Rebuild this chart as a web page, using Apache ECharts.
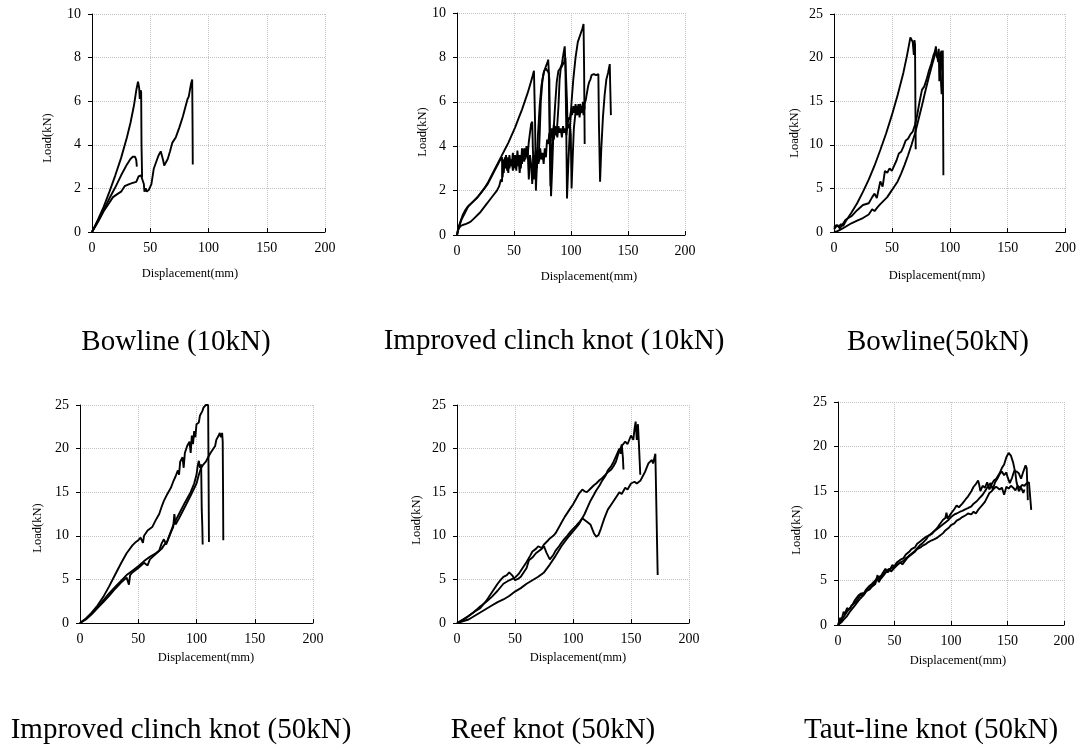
<!DOCTYPE html>
<html>
<head>
<meta charset="utf-8">
<script src="https://cdn.jsdelivr.net/npm/echarts@6/dist/echarts.min.js"></script>
<style>
  html, body { margin: 0; padding: 0; background: #fff; }
  #chart { width: 1079px; height: 749px; }
</style>
</head>
<body>
<div id="chart"></div>
<script>
// panel titles
const titles = [
  "Bowline (10kN)",
  "Improved clinch knot (10kN)",
  "Bowline(50kN)",
  "Improved clinch knot (50kN)",
  "Reef knot (50kN)",
  "Taut-line knot (50kN)"
];
const xTicks = [0, 50, 100, 150, 200];
const yTicks10 = [0, 2, 4, 6, 8, 10];
const yTicks25 = [0, 5, 10, 15, 20, 25];

// Bowline (10kN): [displacement mm, load kN]
const bowline10A = [[0,0],[5,0.55],[10,1.15],[15,1.85],[20,2.6],[25,3.4],[30,4.35],[33,5.0],[36,5.8],[38,6.5],[39.5,6.9],[40.5,6.6],[41,6.1],[41.8,6.5],[42.2,6.4],[42.5,4.0],[43,2.5]];
const bowline10B = [[0,0],[5,0.5],[10,1.0],[15,1.55],[20,2.05],[25,2.6],[30,3.1],[33,3.35],[35,3.45],[37,3.45],[38,3.3],[38.5,3.0]];
const bowline10C = [[0,0],[5,0.45],[10,0.95],[15,1.35],[18,1.6],[22,1.75],[25,1.85],[28,2.1],[32,2.2],[35,2.25],[38,2.3],[40,2.55],[42,2.6],[43.5,2.55],[44.5,2.2],[45,1.85],[46,2.0],[47,1.85],[49,1.95],[51,2.2],[53,2.9],[55,3.2],[57,3.5],[59,3.7],[60,3.65],[61,3.3],[62,3.05],[63,3.0],[65,3.35],[67,3.7],[69,4.1],[72,4.35],[75,4.8],[78,5.3],[80,5.7],[82,6.1],[83,6.2],[84,6.5],[85,6.8],[86,7.0],[86.3,5.0],[86.5,3.1]];

// Improved clinch knot (10kN)
const clinch10A = [[0,0],[1,0.3],[3,0.6],[5,0.9],[7,1.1],[9,1.25],[11,1.35],[13,1.45],[15,1.55],[18,1.7],[21,1.9],[24,2.1],[27,2.35],[30,2.65],[33,2.95],[36,3.25],[39,3.55],[42,3.85],[45,4.15],[48,4.5],[51,4.85],[54,5.25],[57,5.65],[60,6.1],[62,6.4],[64,6.75],[66,7.1],[67.5,7.4],[68,7.45],[68.5,5],[69.2,2.0],[70,3.0],[71,4.5],[72.5,5.8],[74,6.7],[76,7.3],[78,7.6],[79.5,7.8],[80,7.9],[80.5,7.4],[81.5,4.0],[82.5,1.75],[83.5,3.0],[84.5,4.5],[86,5.8],[87.5,6.9],[89,7.4],[90.5,7.5],[92,7.7],[93.5,8.2],[94.5,8.5],[95,7.8],[95.8,5.0],[96.5,1.65],[97.5,3.0],[99,4.8],[100.5,6.0],[102,7.0],[104,8.0],[106,8.7],[108,9.0],[110,9.3],[111,9.5],[111.5,7.5],[112,4.1]];
const clinch10B = [[0,0],[1,0.25],[3,0.4],[5,0.45],[8,0.5],[10,0.55],[12,0.6],[15,0.75],[18,0.9],[20,1.0],[23,1.2],[26,1.4],[29,1.6],[32,1.8],[35,2.0],[37,2.2],[38.5,2.5],[39.5,2.4],[40,3.4],[41,2.8],[42,3.5],[43,3.0],[44,3.3],[45,2.8],[46,3.6],[47,3.1],[48,3.4],[49,2.9],[50,3.3],[51,3.0],[52,3.5],[53,3.1],[54,3.4],[55,2.8],[56,3.5],[57,3.2],[58,3.8],[59,3.3],[60,3.9],[61,3.5],[62,3.8],[63,2.5],[64,3.6],[65,3.2],[66,2.3],[67,3.6],[68,3.2],[69,3.8],[70,3.0],[71,3.6],[72,3.3],[73,3.9],[74,3.4],[75,3.7],[76,3.2],[77,3.9],[78,3.5],[79,4.3],[80,4.1],[81,4.6],[82,4.2],[83,4.8],[84,4.4],[85,5.0],[86,4.5],[87,4.8],[88,4.4],[89,4.9],[90,4.6],[91,4.8],[92,4.4],[93,4.9],[94,4.6],[95,4.8],[96,4.5],[97,5.0],[98,5.3],[99,5.2],[100,5.6],[101,5.4],[102,5.8],[103,5.5],[104,5.9],[105,5.4],[106,5.8],[107,5.5],[108,5.9],[109,5.6],[110,5.8],[111,5.4],[112,5.9],[113,6.1],[114,6.4],[115,6.7],[116,6.9],[117,7.0],[118,7.2],[120,7.25],[122,7.2],[124,7.25],[124.5,5.0],[125.5,2.4],[126.5,3.8],[128,5.3],[129.5,6.3],[131,7.0],[132.5,7.3],[134,7.7],[134.5,6.5],[135,5.4]];
const clinch10C = [[0,0],[2,0.4],[4,0.7],[6,0.9],[8,1.1],[10,1.3],[12,1.4],[15,1.55],[18,1.7],[21,1.9],[24,2.1],[27,2.3],[30,2.6],[33,2.9],[36,3.2],[38,3.4],[39.5,3.5],[40,2.6],[41,3.4],[42,3.1],[43,3.6],[44,2.9],[45,3.5],[46,3.0],[47,3.4],[48,3.1],[49,3.7],[50,3.2],[51,3.6],[52,2.9],[53,3.8],[54,3.2],[55,3.6],[56,3.0],[57,3.9],[58,3.5],[59,3.9],[60,3.4],[61,4.0],[62,3.6],[63,4.2],[64,4.6],[65,5.0],[66,5.1],[66.5,4.0],[67.5,2.5],[68.5,3.5],[69.5,3.0],[70.5,3.8],[71.5,3.2],[72.5,4.5],[73.5,6.0],[75,7.0],[76.5,7.4],[78,7.5],[79.5,7.5],[80.5,7.3],[81,7.0],[81.5,4],[82,2.2],[83,3.8],[84,4.6],[85,4.3],[86,4.9],[87,4.5],[88,5.0],[89,5.8],[90,7.0],[91,7.5],[92,7.6],[93,7.6],[94,7.8],[95,8.0],[96,8.0],[96.5,6],[97,4.8],[98,4.9],[99,5.0],[99.8,4.5],[100.5,2.1],[101.5,3.5],[102.5,4.8],[103.5,5.3],[104.5,5.8],[105.5,5.4],[106.5,5.9],[107.5,5.3],[108.5,5.7],[109.5,5.5],[110.5,6.0],[111.5,5.6],[112,5.8]];

// Bowline (50kN)
const bowline50A = [[0,0.5],[2,0.8],[4,0.6],[6,0.9],[8,0.7],[10,1.2],[15,2.2],[20,3.3],[25,4.6],[30,6.0],[35,7.6],[40,9.4],[45,11.3],[50,13.4],[55,15.7],[60,18.3],[63,20.2],[65,21.6],[66,22.3],[67,22.1],[68,21.8],[69,20.3],[69.5,22.0],[70,21.5],[70.3,15],[70.6,9.5]];
const bowline50B = [[0,0.3],[3,0.8],[5,0.4],[8,1.0],[10,1.4],[15,1.8],[20,2.5],[25,3.1],[30,3.3],[33,4.0],[35,4.4],[37,3.9],[40,5.8],[42,5.2],[44,7.0],[46,6.8],[48,7.3],[50,7.0],[52,7.6],[54,8.2],[56,9.0],[58,9.2],[60,9.8],[62,10.5],[64,10.7],[66,11.2],[68,11.5],[70,12.3],[72,13.5],[74,15.0],[76,16.3],[78,16.7],[80,17.5],[82,18.5],[84,19.3],[86,20.3],[88,21.0],[89,21.2],[90,19.5],[90.5,21.0],[91,17.3],[91.5,19.8],[92,19.0],[93,20.8],[93.5,18.5],[94,20.8],[94.3,12],[94.5,6.5]];
const bowline50C = [[0,0],[3,0.1],[6,0.3],[10,0.6],[15,1.0],[20,1.3],[25,1.6],[30,2.0],[33,2.6],[35,2.4],[38,2.9],[40,3.2],[43,3.6],[46,4.0],[49,4.6],[52,5.2],[55,5.8],[58,6.7],[61,7.7],[64,8.8],[67,10.0],[70,11.3],[73,12.9],[76,14.5],[79,16.2],[82,17.8],[85,19.3],[87,20.2],[88,21.3],[89,20.0],[90,20.5],[91,19.5],[92,20.7],[92.5,17.0],[93,15.8]];

// Improved clinch knot (50kN)
const clinch50A = [[0,0],[5,0.5],[10,1.2],[15,2.0],[20,3.0],[25,4.2],[30,5.5],[35,6.8],[40,8.0],[45,8.9],[48,9.3],[50,9.5],[52,9.8],[54,9.2],[55,10.0],[58,10.6],[60,10.8],[62,11.0],[65,11.8],[68,12.5],[70,13.3],[72,14.0],[75,14.8],[78,15.5],[80,16.2],[82,16.8],[84,17.5],[85,17.0],[86,18.5],[88,19.0],[89,17.8],[90,19.5],[92,20.3],[94,20.8],[95,19.5],[96,21.5],[97,20.5],[98,22.0],[99,21.3],[100,22.8],[102,23.0],[103,23.8],[104,24.0],[105,24.3],[106,24.7],[107,24.6],[108,25.0],[109,24.8],[110,25.0],[110.3,18],[110.7,9.3]];
const clinch50B = [[0,0],[5,0.4],[10,1.0],[15,1.7],[20,2.4],[25,3.1],[30,3.9],[35,4.6],[40,5.2],[42,4.4],[43,5.5],[45,5.8],[50,6.3],[55,6.9],[58,6.6],[60,7.3],[65,7.9],[70,8.5],[72,8.9],[75,9.4],[78,10.4],[80,11.0],[81,12.5],[82,11.3],[85,12.0],[90,13.3],[95,14.6],[100,16.0],[102,17.0],[104,17.8],[106,18.2],[108,18.5],[110,19.0],[112,19.5],[114,19.9],[116,20.3],[117,21.0],[119,21.5],[120,21.8],[121,21.3],[122,21.8],[122.5,20.8],[122.8,15],[123,9.5]];
const clinch50C = [[0,0],[5,0.5],[10,1.1],[15,1.8],[20,2.6],[25,3.4],[30,4.1],[35,4.8],[40,5.5],[45,6.0],[50,6.5],[55,7.1],[60,7.6],[65,8.0],[68,8.3],[70,9.1],[72,9.6],[74,9.0],[76,9.8],[80,11.2],[85,12.5],[90,13.8],[95,15.0],[98,16.0],[100,17.0],[101,18.0],[102,18.6],[103,17.8],[104,18.2],[104.5,13],[105,11.0],[105.3,9.0]];

// Reef knot (50kN)
const reefA = [[0,0],[5,0.3],[10,0.8],[15,1.3],[20,1.9],[25,2.4],[30,3.0],[35,3.7],[40,4.5],[45,4.9],[50,5.2],[53,5.6],[55,6.0],[58,6.6],[60,7.0],[63,7.7],[65,8.2],[68,8.5],[70,8.8],[73,8.6],[75,9.0],[78,9.4],[80,9.7],[83,10.0],[85,10.3],[88,11.0],[90,11.5],[93,12.2],[95,12.6],[98,13.2],[100,13.6],[103,14.3],[105,14.8],[108,15.3],[110,15.1],[112,15.0],[115,15.4],[118,15.8],[120,16.0],[123,16.4],[125,16.6],[128,17.0],[130,17.3],[133,17.6],[135,18.0],[137,18.5],[140,19.8],[142,20.3],[145,20.8],[147,20.5],[150,21.5],[152,21.0],[153,22.2],[154,23.1],[155,21.0],[156,22.8],[157,20.0],[158,17.0]];
const reefB = [[0,0],[5,0.4],[10,0.8],[15,1.3],[20,1.7],[23,2.2],[25,2.5],[28,3.1],[30,3.5],[33,4.1],[35,4.5],[38,5.0],[40,5.3],[43,5.5],[45,5.8],[46,5.6],[48,5.4],[50,4.9],[53,5.1],[55,5.3],[58,5.9],[60,6.3],[62,7.2],[65,7.5],[68,8.0],[70,8.2],[73,8.5],[75,8.8],[77,8.1],[80,7.3],[83,7.8],[85,8.3],[88,8.8],[90,9.2],[93,9.7],[95,10.0],[98,10.5],[100,10.8],[103,11.2],[105,11.5],[108,12.0],[110,11.8],[112,11.6],[115,11.3],[118,10.3],[120,9.9],[122,10.1],[124,10.8],[127,12.0],[130,13.0],[133,13.6],[135,14.0],[138,14.6],[140,15.0],[142,14.8],[145,15.5],[147,15.3],[150,16.0],[153,16.2],[155,16.0],[158,16.3],[160,16.8],[162,17.3],[165,18.3],[168,18.7],[169,18.3],[171,19.4],[172,19.2],[173,5.5]];
const reefC = [[0,0],[5,0.2],[10,0.4],[15,0.8],[20,1.2],[25,1.6],[30,2.0],[35,2.4],[40,2.7],[45,3.1],[50,3.6],[55,4.0],[60,4.5],[65,4.9],[70,5.3],[75,5.8],[80,6.7],[85,7.7],[90,8.8],[95,9.7],[100,10.5],[105,11.3],[110,12.5],[113,13.4],[115,14.0],[118,14.7],[120,15.2],[123,15.8],[125,16.3],[128,16.9],[130,17.5],[133,18.0],[135,18.5],[138,19.4],[140,20.0],[141,19.4],[142,20.5],[143,19.0],[143.5,17.6]];

// Taut-line knot (50kN)
const tautA = [[0,0],[2,0.8],[3,0.5],[5,1.5],[6,1.2],[8,1.9],[10,1.7],[12,2.2],[15,2.5],[18,3.0],[20,3.4],[22,3.3],[25,3.8],[28,4.0],[30,4.3],[33,4.6],[35,5.6],[36,4.8],[38,5.2],[40,5.5],[43,6.0],[45,6.3],[47,6.0],[50,6.4],[53,6.8],[55,7.0],[57,6.8],[60,7.3],[63,7.8],[65,8.0],[68,8.3],[70,8.6],[73,9.0],[75,9.2],[78,9.6],[80,10.0],[83,10.3],[85,10.5],[88,10.9],[90,11.3],[93,11.8],[95,12.0],[96,12.6],[97,11.9],[100,12.5],[103,13.0],[105,13.4],[107,13.2],[110,13.6],[113,14.1],[115,14.4],[118,15.0],[120,15.5],[122,15.8],[124,16.2],[125,15.7],[126,15.0],[128,15.6],[130,15.4],[132,16.0],[134,15.2],[136,15.8],[138,16.2],[140,16.4],[143,17.0],[145,17.6],[147,18.0],[149,18.8],[151,19.3],[153,19.0],[155,18.2],[157,17.0],[158,16.0],[160,15.0],[162,15.4],[164,14.8],[165,15.2]];
const tautB = [[0,0],[3,0.6],[5,0.9],[8,1.5],[10,1.8],[13,2.3],[15,2.8],[18,3.3],[20,3.5],[23,3.6],[25,4.0],[28,4.4],[30,4.6],[33,5.0],[35,5.3],[38,5.5],[40,5.9],[42,6.3],[44,5.9],[46,6.2],[48,6.7],[50,6.6],[52,7.0],[55,7.3],[58,7.5],[60,7.9],[63,8.2],[65,8.5],[68,8.7],[70,9.1],[73,9.4],[75,9.6],[78,9.9],[80,10.0],[83,10.2],[85,10.5],[88,10.8],[90,11.0],[93,11.3],[95,11.5],[98,11.8],[100,12.1],[103,12.4],[105,12.5],[108,12.7],[110,12.8],[113,13.0],[115,13.1],[118,13.3],[120,13.6],[123,13.9],[125,14.2],[128,14.6],[130,15.0],[133,15.6],[135,15.9],[137,15.2],[139,16.0],[141,16.4],[143,16.9],[145,17.2],[147,16.8],[149,17.1],[150,16.6],[152,15.9],[154,16.5],[156,17.3],[158,17.2],[160,17.0],[162,16.4],[164,17.2],[166,17.9],[167,17.6],[168,14.0]];
const tautC = [[0,0],[3,0.3],[5,0.6],[8,1.0],[10,1.4],[13,1.9],[15,2.2],[18,2.7],[20,3.0],[23,3.4],[25,3.8],[28,4.1],[30,4.4],[33,4.8],[35,5.1],[38,5.4],[40,5.7],[43,6.0],[45,6.2],[48,6.4],[50,6.6],[53,6.8],[55,7.0],[58,7.2],[60,7.5],[63,7.7],[65,7.9],[68,8.2],[70,8.5],[73,8.7],[75,8.9],[78,9.1],[80,9.3],[83,9.5],[85,9.6],[88,9.8],[90,10.0],[93,10.3],[95,10.6],[98,10.9],[100,11.2],[103,11.4],[105,11.7],[108,11.9],[110,12.1],[113,12.3],[115,12.5],[118,12.4],[120,12.7],[122,12.5],[124,12.9],[126,13.2],[128,13.5],[130,13.8],[132,14.3],[134,14.8],[136,15.0],[138,15.3],[140,15.5],[143,15.2],[145,15.4],[147,14.6],[149,15.5],[151,15.3],[153,15.6],[155,15.4],[157,15.1],[159,15.6],[161,15.4],[163,15.7],[165,15.6],[167,15.9],[169,16.0],[170,15.8],[171,12.9]];

const panelCurves = [
  [bowline10A, bowline10B, bowline10C],
  [clinch10A, clinch10B, clinch10C],
  [bowline50A, bowline50B, bowline50C],
  [clinch50A, clinch50B, clinch50C],
  [reefA, reefB, reefC],
  [tautA, tautB, tautC]
];
const panelYTicks = [yTicks10, yTicks10, yTicks25, yTicks25, yTicks25, yTicks25];

// layout of the six plots
const grids = [
  { left: 92, top: 14, width: 233, height: 218 },
  { left: 457, top: 13, width: 228, height: 222 },
  { left: 834, top: 14, width: 232, height: 218 },
  { left: 80, top: 405, width: 233, height: 218 },
  { left: 457, top: 405, width: 232, height: 218 },
  { left: 838, top: 402, width: 226, height: 223 }
];
const titlePos = [[176, 342], [554, 341], [938, 342], [181, 730], [553, 730], [931, 730]];
const xNamePos = [[190, 274], [589, 277], [937, 276], [206, 658], [578, 658], [958, 661]];
const yNamePos = [[48, 138], [423, 132], [795, 133], [38, 528], [417, 520], [797, 530]];

const FONT = '"Liberation Serif", "Times New Roman", serif';

const myChart = echarts.init(document.getElementById("chart"));

const xAxis = grids.map((g, i) => ({
  type: "value",
  gridIndex: i,
  min: xTicks[0],
  max: xTicks[xTicks.length - 1],
  interval: xTicks[1] - xTicks[0],
  axisLine: { show: true, onZero: false, lineStyle: { color: "#000", width: 1 } },
  axisTick: { show: true, inside: true, length: 4, lineStyle: { color: "#000" } },
  axisLabel: { color: "#000", fontFamily: FONT, fontSize: 14, margin: 9, showMinLabel: true, showMaxLabel: true },
  splitLine: { show: true, lineStyle: { color: "#c4c4c4", type: "dotted", width: 1 } }
}));

const yAxis = grids.map((g, i) => {
  const t = panelYTicks[i];
  return {
    type: "value",
    gridIndex: i,
    min: t[0],
    max: t[t.length - 1],
    interval: t[1] - t[0],
    axisLine: { show: true, onZero: false, lineStyle: { color: "#000", width: 1 } },
    axisTick: { show: true, length: 4, lineStyle: { color: "#000" } },
    axisLabel: { color: "#000", fontFamily: FONT, fontSize: 14, margin: 11, showMinLabel: true, showMaxLabel: true },
    splitLine: { show: true, lineStyle: { color: "#c4c4c4", type: "dotted", width: 1 } }
  };
});

const series = [];
panelCurves.forEach((curves, i) => {
  curves.forEach((c) => {
    series.push({
      type: "line",
      xAxisIndex: i,
      yAxisIndex: i,
      data: c,
      showSymbol: false,
      symbol: "none",
      lineStyle: { color: "#000", width: 1.9 },
      z: 3
    });
  });
});

const graphic = [];
titles.forEach((t, i) => {
  graphic.push({
    type: "text",
    x: titlePos[i][0],
    y: titlePos[i][1],
    style: { text: t, font: '29px ' + FONT, fill: "#000", align: "center", verticalAlign: "middle" }
  });
  graphic.push({
    type: "text",
    x: xNamePos[i][0],
    y: xNamePos[i][1],
    style: { text: "Displacement(mm)", font: '12.5px ' + FONT, fill: "#000", align: "center", verticalAlign: "middle" }
  });
  graphic.push({
    type: "text",
    x: yNamePos[i][0],
    y: yNamePos[i][1],
    rotation: Math.PI / 2,
    style: { text: "Load(kN)", font: '12.5px ' + FONT, fill: "#000", align: "center", verticalAlign: "middle" }
  });
});

myChart.setOption({
  animation: false,
  backgroundColor: "#fff",
  grid: grids,
  xAxis: xAxis,
  yAxis: yAxis,
  series: series,
  graphic: graphic
});
</script>
</body>
</html>
